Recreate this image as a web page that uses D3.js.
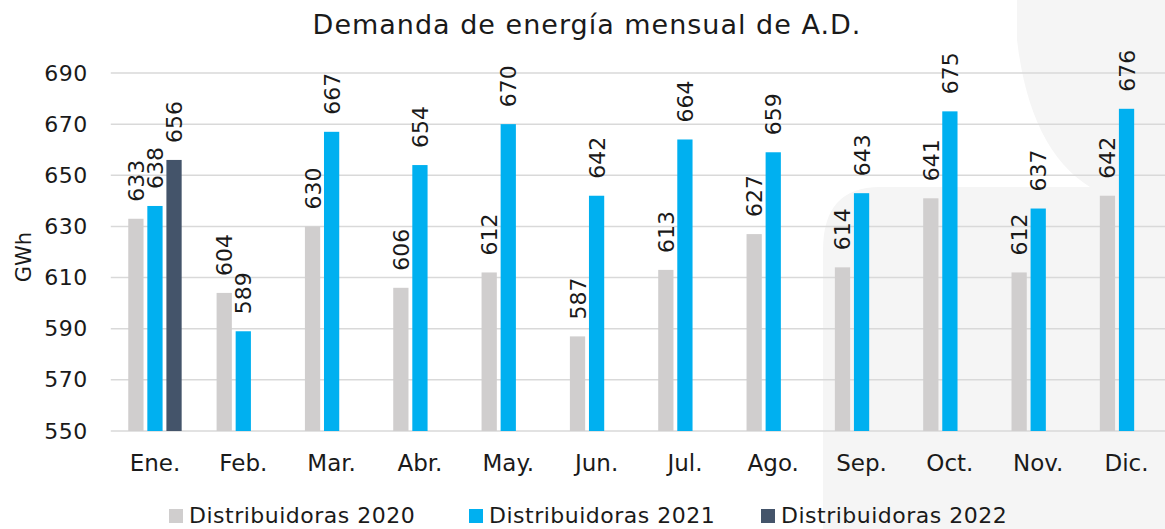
<!DOCTYPE html>
<html><head><meta charset="utf-8">
<script src="https://cdn.jsdelivr.net/npm/d3@7"></script>
<style>
html,body{margin:0;padding:0;background:#fff;}
text{font-family:"DejaVu Sans","Open Sans",sans-serif;fill:#1a1a1a;}
</style></head>
<body><svg id="c" width="1165" height="529"></svg>
<script>
const months = ["Ene.","Feb.","Mar.","Abr.","May.","Jun.","Jul.","Ago.","Sep.","Oct.","Nov.","Dic."];
const seriesNames = ["Distribuidoras 2020","Distribuidoras 2021","Distribuidoras 2022"];
const values2020 = [633,604,630,606,612,587,613,627,614,641,612,642];
const values2021 = [638,589,667,654,670,642,664,659,643,675,637,676];
const values2022 = [656,null,null,null,null,null,null,null,null,null,null,null];
const yTicks = [550,570,590,610,630,650,670,690];
const colors = ["#d0cece","#00b0f0","#44546a"];
const title = "Demanda de energía mensual de A.D.";
const yLabel = "GWh";

const svg = d3.select("#c");
const mLeft = 110.8, mRight = 1170.7, mTop = 73, mBottom = 431;
const x = d3.scaleBand().domain(months).range([mLeft,mRight]).paddingInner(0).paddingOuter(0);
const y = d3.scaleLinear().domain([550,690]).range([mBottom,mTop]);
const groupW = 53.4;
const inner = d3.scaleBand().domain([0,1,2]).range([0,groupW]).paddingInner(0.2);
const groupOffset = x.bandwidth()/2 - groupW/2;

// faint watermark background
svg.append("path")
  .attr("d","M823,529 L823,250 Q823,187 880,187 L1090,187 Q1030,150 1017,40 L1017,0 L1165,0 L1165,529 Z")
  .attr("fill","#f5f5f5");

// gridlines
svg.append("g").selectAll("line").data(yTicks).join("line")
  .attr("x1",mLeft).attr("x2",1165).attr("y1",d=>y(d)).attr("y2",d=>y(d))
  .attr("stroke","#d9d9d9").attr("stroke-width",1.5);

// y axis labels
const yAxis = d3.axisLeft(y).tickValues(yTicks).tickSize(0).tickPadding(23);
const ga = svg.append("g").attr("transform",`translate(${mLeft},0)`).call(yAxis);
ga.select(".domain").remove();
ga.selectAll("text").attr("font-size",22).style("font-family","DejaVu Sans")
  .style("letter-spacing","0.5px").attr("fill","#1a1a1a");

// x axis labels
const xAxis = d3.axisBottom(x).tickSize(0).tickPadding(24);
const gx = svg.append("g").attr("transform",`translate(0,${mBottom})`).call(xAxis);
gx.select(".domain").remove();
gx.selectAll("text").attr("font-size",23).style("font-family","DejaVu Sans").attr("fill","#1a1a1a");

const all = [values2020, values2021, values2022];
all.forEach((vals,si)=>{
  const data = months.map((m,i)=>({m, v: vals[i]})).filter(d=>d.v!=null);
  const g = svg.append("g");
  g.selectAll("rect").data(data).join("rect")
    .attr("x", d=>x(d.m)+groupOffset+inner(si))
    .attr("width", inner.bandwidth())
    .attr("y", d=>y(d.v))
    .attr("height", d=>mBottom - y(d.v))
    .attr("fill", colors[si]);
  g.selectAll("text").data(data).join("text")
    .attr("transform", d=>`translate(${x(d.m)+groupOffset+inner(si)+inner.bandwidth()/2+8},${y(d.v)-17}) rotate(-90)`)
    .attr("font-size",22).text(d=>d.v);
});

// title
svg.append("text").attr("x",587).attr("y",34).attr("text-anchor","middle")
  .attr("font-size",27).style("letter-spacing","1px").text(title);

// y label
svg.append("text").attr("transform","translate(31,257) rotate(-90)").attr("text-anchor","middle")
  .attr("font-size",21).text(yLabel);

// legend
const legX = [169, 469, 761];
const lg = svg.append("g");
seriesNames.forEach((n,i)=>{
  lg.append("rect").attr("x",legX[i]).attr("y",509).attr("width",14).attr("height",14).attr("fill",colors[i]);
  lg.append("text").attr("x",legX[i]+20).attr("y",523).attr("font-size",22)
    .style("letter-spacing","0.5px").text(n);
});
</script></body></html>
